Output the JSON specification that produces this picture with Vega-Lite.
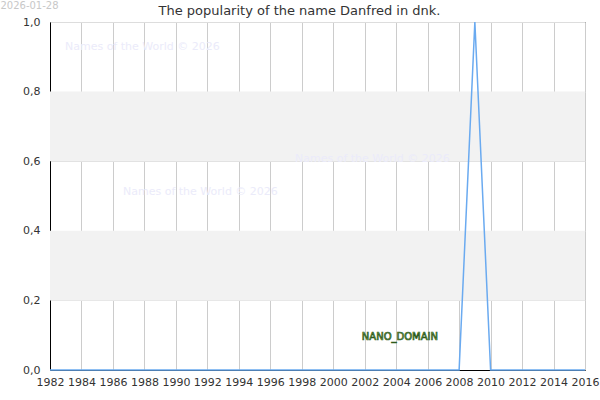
{
  "$schema": "https://vega.github.io/schema/vega-lite/v6.json",
  "width": 535,
  "height": 348,
  "autosize": "none",
  "padding": {"left": 50, "top": 22, "right": 15, "bottom": 30},
  "title": {
    "text": "The popularity of the name Danfred in dnk.",
    "fontSize": 13,
    "fontWeight": "normal",
    "color": "#333333",
    "font": "DejaVu Sans",
    "offset": -17,
    "dx": -18
  },
  "datasets": {
    "popularity": [
      {"year": 1982, "value": 0}, {"year": 1983, "value": 0}, {"year": 1984, "value": 0},
      {"year": 1985, "value": 0}, {"year": 1986, "value": 0}, {"year": 1987, "value": 0},
      {"year": 1988, "value": 0}, {"year": 1989, "value": 0}, {"year": 1990, "value": 0},
      {"year": 1991, "value": 0}, {"year": 1992, "value": 0}, {"year": 1993, "value": 0},
      {"year": 1994, "value": 0}, {"year": 1995, "value": 0}, {"year": 1996, "value": 0},
      {"year": 1997, "value": 0}, {"year": 1998, "value": 0}, {"year": 1999, "value": 0},
      {"year": 2000, "value": 0}, {"year": 2001, "value": 0}, {"year": 2002, "value": 0},
      {"year": 2003, "value": 0}, {"year": 2004, "value": 0}, {"year": 2005, "value": 0},
      {"year": 2006, "value": 0}, {"year": 2007, "value": 0}, {"year": 2008, "value": 0},
      {"year": 2009, "value": 1}, {"year": 2010, "value": 0}, {"year": 2011, "value": 0},
      {"year": 2012, "value": 0}, {"year": 2013, "value": 0}, {"year": 2014, "value": 0},
      {"year": 2015, "value": 0}, {"year": 2016, "value": 0}
    ],
    "bands": [
      {"from": 0.2, "to": 0.4},
      {"from": 0.6, "to": 0.8}
    ],
    "watermarks": [
      {"year": 1982.95, "value": 0.928, "label": "Names of the World © 2026"},
      {"year": 1997.57, "value": 0.606, "label": "Names of the World © 2026"},
      {"year": 1986.64, "value": 0.511, "label": "Names of the World © 2026"}
    ],
    "stamp": [
      {"year": 1978.85, "value": 1.06, "label": "2026-01-28"}
    ],
    "domain": [
      {"year": 2004.24, "value": 0.095, "label": "NANO_DOMAIN"}
    ]
  },
  "config": {
    "font": "DejaVu Sans",
    "view": {"stroke": "#000000", "strokeWidth": 1}
  },
  "encoding": {
    "x": {
      "field": "year",
      "type": "quantitative",
      "title": null,
      "scale": {"domain": [1982, 2016], "nice": false, "zero": false},
      "axis": {
        "values": [1982, 1984, 1986, 1988, 1990, 1992, 1994, 1996, 1998, 2000, 2002, 2004, 2006, 2008, 2010, 2012, 2014, 2016],
        "format": "d",
        "labelFontSize": 11,
        "labelColor": "#333333",
        "labelPadding": 6,
        "ticks": false,
        "domainColor": "#000000",
        "gridColor": "#cccccc",
        "gridWidth": 1,
        "labelFlush": false
      }
    },
    "y": {
      "field": "value",
      "type": "quantitative",
      "title": null,
      "scale": {"domain": [0, 1], "nice": false},
      "axis": {
        "values": [0, 0.2, 0.4, 0.6, 0.8, 1],
        "labelExpr": "replace(format(datum.value, '.1f'), '.', ',')",
        "labelFontSize": 11,
        "labelColor": "#333333",
        "labelPadding": 10,
        "ticks": false,
        "domainColor": "#000000",
        "gridColor": "#dddddd",
        "gridWidth": 1,
        "labelFlush": false
      }
    }
  },
  "layer": [
    {
      "data": {"name": "bands"},
      "mark": {"type": "rect", "color": "#f2f2f2"},
      "encoding": {
        "x": {"value": 0},
        "x2": {"value": 535},
        "y": {"field": "from", "type": "quantitative"},
        "y2": {"field": "to"}
      }
    },
    {
      "data": {"name": "watermarks"},
      "mark": {"type": "text", "align": "left", "baseline": "middle", "fontSize": 11, "color": "#ebebfa"},
      "encoding": {
        "text": {"field": "label"}
      }
    },
    {
      "data": {"name": "popularity"},
      "mark": {"type": "line", "color": "#6aaaf0", "strokeWidth": 1.5},
      "encoding": {}
    },
    {
      "data": {"name": "domain"},
      "mark": {"type": "text", "align": "center", "baseline": "middle", "fontSize": 10, "fontWeight": "normal", "color": "#9acd6a", "stroke": "#2e5a1c", "strokeWidth": 0.7, "clip": false},
      "encoding": {
        "text": {"field": "label"}
      }
    },
    {
      "data": {"name": "stamp"},
      "mark": {"type": "text", "align": "left", "baseline": "top", "fontSize": 10, "color": "#c8c8c8", "clip": false},
      "encoding": {
        "text": {"field": "label"}
      }
    }
  ]
}
